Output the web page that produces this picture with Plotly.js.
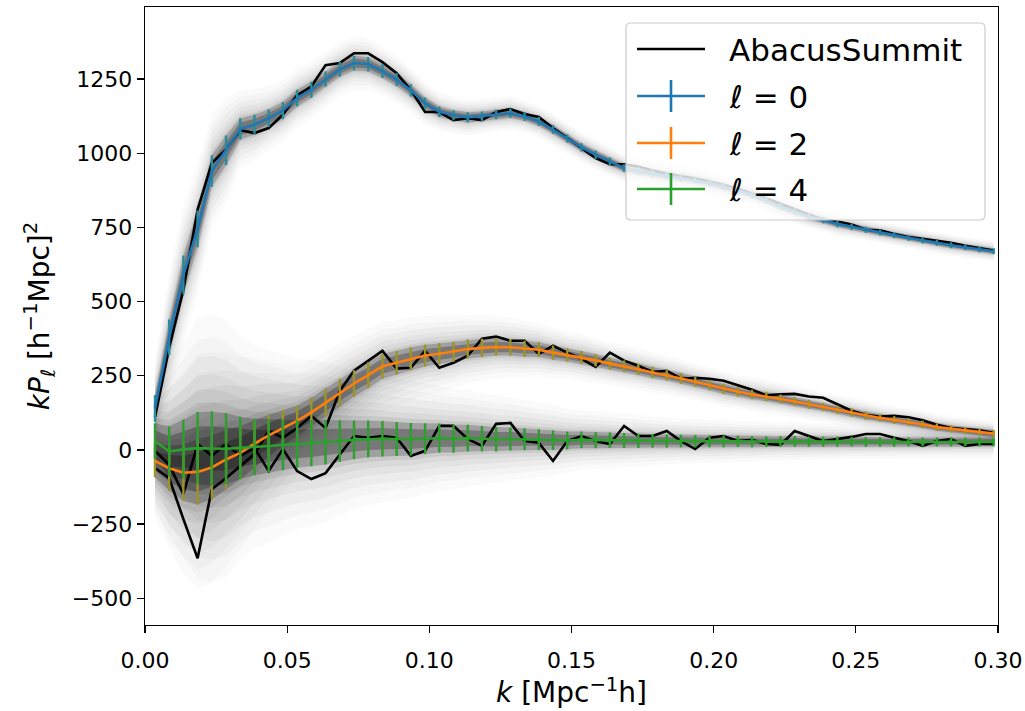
<!DOCTYPE html>
<html>
<head>
<meta charset="utf-8">
<script src="https://cdn.plot.ly/plotly-3.0.1.min.js"></script>
<style>html,body{margin:0;padding:0;background:#fff;}#chart{width:1025px;height:711px;}</style>
</head>
<body>
<div id="chart"></div>
<script>
// wavenumber bin centres
const k = [0.0035,0.0085,0.0135,0.0185,0.0235,0.0285,0.0335,0.0385,0.0435,0.0485,
  0.0535,0.0585,0.0635,0.0685,0.0735,0.0785,0.0835,0.0885,0.0935,0.0985,
  0.1035,0.1085,0.1135,0.1185,0.1235,0.1285,0.1335,0.1385,0.1435,0.1485,
  0.1535,0.1585,0.1635,0.1685,0.1735,0.1785,0.1835,0.1885,0.1935,0.1985,
  0.2035,0.2085,0.2135,0.2185,0.2235,0.2285,0.2335,0.2385,0.2435,0.2485,
  0.2535,0.2585,0.2635,0.2685,0.2735,0.2785,0.2835,0.2885,0.2935,0.2985];

// mean of mocks, kP_l
const mean0 = [140,380,590,745,940,1010,1082,1096,1118,1144,
  1186,1214,1250,1283,1304,1300,1277,1248,1212,1168,
  1140,1128,1121,1125,1131,1135,1124,1107,1080,1050,
  1020,995,972,950,940,932,925,918,910,900,
  888,874,860,842,820,803,787,775,762,752,
  742,733,724,715,706,698,690,683,676,670];
const mean2 = [-37,-62,-77,-74,-59,-32,-10,21,49,74,
  98,127,160,193,224,252,282,294,307,318,
  324,331,340,344,347,346,341,338,328,320,
  312,302,291,282,272,261,252,241,230,218,
  206,196,187,180,172,163,154,145,136,126,
  116,108,101,94,86,77,71,65,60,55];
const mean4 = [30,-5,2,6,5,4,7,10,14,17,
  20,23,26,30,34,37,38,37,36,38,
  40,38,40,38,36,37,36,35,33,32,
  34,33,33,32,31,31,30,30,29,29,
  29,29,28,28,28,29,28,28,28,28,
  27,27,27,27,27,27,27,27,27,27];

// error bars (1 sigma)
const sig0 = [45,60,65,62,53,50,36,34,30,29,
  28,27,26,25,25,24,23,22,21,20,
  18,17,17,16,16,16,15,15,15,14,
  14,14,14,13,13,13,13,13,12,12,
  12,12,12,12,11,11,11,11,11,11,
  10,10,10,10,10,10,10,10,10,10];
const sig2 = [55,75,95,110,108,100,90,80,70,60,
  52,50,48,47,45,44,42,40,39,37,
  36,34,32,31,29,28,27,25,24,22,
  22,21,20,20,19,19,18,18,17,17,
  17,16,16,16,15,15,15,14,14,14,
  14,13,13,13,13,12,12,12,12,12];
const sig4 = [60,85,100,122,125,120,105,95,90,85,
  80,78,75,70,65,62,60,57,55,52,
  49,47,45,43,41,39,37,35,33,30,
  28,27,26,25,24,23,22,21,21,20,
  20,19,19,18,18,18,17,17,17,16,
  16,16,16,15,15,15,15,15,15,15];

// AbacusSummit measurement
const abacus0 = [110,345,540,810,967,1013,1078,1068,1085,1130,
  1196,1225,1297,1304,1337,1337,1307,1270,1213,1139,
  1139,1112,1118,1112,1139,1149,1132,1122,1085,1051,
  1017,984,963,963,955,942,932,922,915,905,
  893,880,865,848,830,812,795,775,770,760,
  742,740,728,718,712,705,698,688,680,672];
const abacus2 = [-61,-95,-233,-365,-132,-95,-54,-14,64,41,
  74,115,74,199,267,301,334,274,277,334,
  277,294,318,375,382,368,368,324,351,328,
  307,280,328,301,284,263,267,240,243,240,
  233,218,203,184,188,189,180,176,155,132,
  118,113,115,110,100,85,74,71,66,58];
const abacus4 = [-3,-50,-149,20,-20,20,-20,7,-71,3,
  -71,-98,-78,-14,47,41,47,41,-20,-3,
  81,81,37,14,88,91,30,24,-37,30,
  47,30,20,81,47,47,64,30,3,41,
  47,30,34,20,17,64,47,30,37,44,
  54,54,41,30,14,30,37,14,20,20];

const seriesNames = ['AbacusSummit', 'ℓ = 0', 'ℓ = 2', 'ℓ = 4'];
const yTicks = [-500,-250,0,250,500,750,1000,1250];
const xTicks = [0,0.05,0.10,0.15,0.20,0.25,0.30];

const FONT = 'DejaVu Sans, Verdana, sans-serif';
const traces = [];

// haze of mock realisations: nested translucent bands built from mean and sigma
const bandLevels = [3.6, 3.0, 2.5, 2.0, 1.6, 1.25, 1.0, 0.6];
const bandAlpha  = [0.02, 0.025, 0.03, 0.035, 0.045, 0.07, 0.2, 0.25];
[[mean0,sig0],[mean2,sig2],[mean4,sig4]].forEach(([m,s]) => {
  bandLevels.forEach((n, j) => {
    const up = m.map((v,i)=>v+n*s[i]);
    const lo = m.map((v,i)=>v-n*s[i]);
    traces.push({
      x: k.concat(k.slice().reverse()),
      y: up.concat(lo.reverse()),
      type:'scatter', mode:'lines', fill:'toself',
      fillcolor:'rgba(0,0,0,'+bandAlpha[j]+')',
      line:{width:0, color:'rgba(0,0,0,0)'},
      hoverinfo:'skip', showlegend:false
    });
  });
});

// AbacusSummit black lines
[abacus0, abacus2, abacus4].forEach((a) => {
  traces.push({x:k, y:a, type:'scatter', mode:'lines', name: seriesNames[0],
    line:{color:'#000000', width:2.6}, showlegend:false});
});

// mean with error bars
const meanSets = [[mean0,sig0,'#1f77b4','#2a8c9a'],[mean2,sig2,'#ff7f0e','#9c9428'],[mean4,sig4,'#2ca02c','#2ca02c']];
meanSets.forEach(([m,s,c,ec], j) => {
  traces.push({x:k, y:m, type:'scatter', mode:'lines', name: seriesNames[j+1],
    line:{color:c, width:2.6},
    error_y:{type:'data', array:s, visible:true, color:ec, thickness:2.4, width:0},
    showlegend:false});
});

// manual legend (matplotlib style)
const px = X => (X-145)/853;
const py = Y => (625-Y)/618;
const shapes = [];
const annotations = [];
{
  const x0=px(626), x1=px(985), y0=py(220), y1=py(23), rx=5/853, ry=5/618;
  shapes.push({type:'path', xref:'paper', yref:'paper',
    path:`M ${x0+rx},${y1} L ${x1-rx},${y1} Q ${x1},${y1} ${x1},${y1-ry} L ${x1},${y0+ry} Q ${x1},${y0} ${x1-rx},${y0} L ${x0+rx},${y0} Q ${x0},${y0} ${x0},${y0+ry} L ${x0},${y1-ry} Q ${x0},${y1} ${x0+rx},${y1} Z`,
    fillcolor:'rgba(255,255,255,0.8)', line:{color:'#cccccc', width:1.2}, layer:'above'});
  const rows = [49, 96, 143, 189];
  const cols = ['#000000','#1f77b4','#ff7f0e','#2ca02c'];
  rows.forEach((r, j) => {
    shapes.push({type:'line', xref:'paper', yref:'paper', x0:px(637), x1:px(705), y0:py(r), y1:py(r),
      line:{color:cols[j], width:2.6}, layer:'above'});
    if (j>0) shapes.push({type:'line', xref:'paper', yref:'paper', x0:px(671), x1:px(671), y0:py(r-16), y1:py(r+16),
      line:{color:cols[j], width:2.6}, layer:'above'});
    const txt = j===0 ? seriesNames[0] : '<i>ℓ</i> = ' + seriesNames[j].slice(-1);
    annotations.push({xref:'paper', yref:'paper', x:px(727), y:py(r+1), xanchor:'left', yanchor:'middle',
      text:txt, showarrow:false, font:{family:FONT, size:31, color:'#000'}});
  });
}

const axisCommon = {showgrid:false, zeroline:false, showline:true, mirror:true,
  linecolor:'#000', linewidth:1.3, ticks:'outside', ticklen:7, tickwidth:1.3, tickcolor:'#000',
  tickfont:{family:FONT, size:22, color:'#000'}};

const layout = {
  width:1025, height:711,
  margin:{l:145, r:27, t:7, b:86},
  paper_bgcolor:'#fff', plot_bgcolor:'#fff',
  showlegend:false,
  xaxis: Object.assign({}, axisCommon, {
    range:[0,0.3], tickvals:xTicks, tickformat:'.2f', ticklabelstandoff:8,
    title:{text:'<i>k</i> [Mpc<sup>−1</sup>h]', font:{family:FONT, size:28, color:'#000'}, standoff:6}
  }),
  yaxis: Object.assign({}, axisCommon, {
    range:[-590,1493], tickvals:yTicks,
    title:{text:'<i>kP</i><sub><i>ℓ</i></sub> [h<sup>−1</sup>Mpc]<sup>2</sup>', font:{family:FONT, size:28, color:'#000'}, standoff:14}
  }),
  shapes: shapes,
  annotations: annotations
};

Plotly.newPlot('chart', traces, layout, {staticPlot:true, displayModeBar:false});
</script>
</body>
</html>
